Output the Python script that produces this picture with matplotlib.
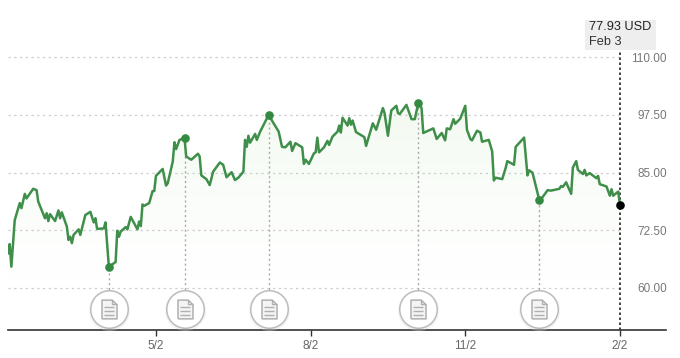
import numpy as np
import matplotlib
matplotlib.use("Agg")
import matplotlib.pyplot as plt
from matplotlib.path import Path
from matplotlib.colors import LinearSegmentedColormap

plt.rcParams['font.family'] = ['Liberation Sans', 'DejaVu Sans']

# days since Feb 2 of the previous year, price in USD
days = [1, 2, 3, 5, 8, 9, 11, 12, 16, 18, 19, 23, 24, 25, 26, 29, 31, 32, 33, 36, 37, 38, 39, 40,
        43, 44, 47, 50, 52, 53, 54, 58, 59, 61, 65, 66, 67, 68, 71, 72, 74, 78, 79, 80, 81, 82, 85,
        87, 88, 89, 93, 95, 96, 99, 100, 101, 103, 106, 107, 110, 114, 115, 116, 119, 121, 123,
        127, 129, 131, 134, 136, 138, 141, 142, 143, 144, 145, 148, 149, 151, 156, 162, 164, 166,
        169, 170, 172, 176, 177, 178, 180, 183, 184, 185, 186, 189, 191, 192, 194, 197, 198, 199,
        200, 203, 204, 205, 206, 208, 213, 214, 218, 220, 224, 225, 227, 229, 232, 233, 234, 238,
        241, 243, 245, 247, 248, 254, 256, 259, 261, 262, 264, 266, 267, 270, 273, 274, 276, 277,
        280, 282, 283, 287, 289, 290, 291, 295, 297, 298, 302, 303, 308, 310, 311, 313, 317, 319,
        322, 324, 329, 330, 331, 333, 336, 337, 339, 340, 343, 344, 345, 347, 351, 352, 353, 357,
        359, 360, 361, 364, 365]
prices = [67.5, 69.5, 64.6, 74.7, 78.4, 77.3, 80.4, 79.4, 81.5, 81.2, 78.7, 75.1, 76.2, 74.5, 76.0,
          74.5, 76.8, 75.1, 76.4, 73.3, 70.4, 71.1, 69.7, 71.5, 72.7, 71.5, 75.8, 76.5, 74.2, 75.1,
          72.8, 72.9, 74.2, 64.6, 65.6, 72.4, 71.1, 72.2, 73.2, 72.7, 75.4, 72.7, 74.4, 73.4, 78.1,
          77.8, 78.4, 81.0, 81.0, 84.3, 85.8, 82.2, 82.7, 87.4, 91.6, 90.1, 92.1, 92.5, 88.5, 87.8,
          89.1, 88.5, 84.4, 83.6, 82.3, 85.2, 87.2, 86.7, 84.0, 85.1, 83.4, 83.9, 85.2, 92.1, 90.6,
          93.0, 91.5, 93.4, 92.1, 93.9, 97.5, 93.9, 90.6, 90.5, 91.7, 89.7, 91.4, 90.5, 86.9, 87.8,
          86.9, 89.2, 89.4, 92.6, 89.4, 90.5, 91.9, 91.0, 92.8, 93.9, 95.2, 93.7, 96.9, 95.2, 96.8,
          95.4, 96.3, 93.8, 92.7, 90.8, 95.7, 94.3, 99.0, 97.9, 93.0, 98.5, 99.5, 97.9, 97.7, 99.7,
          96.6, 96.6, 100.1, 99.0, 93.6, 94.6, 92.3, 93.6, 92.0, 94.6, 94.4, 96.6, 95.6, 96.7, 99.5,
          94.3, 92.3, 92.0, 94.1, 93.7, 91.7, 92.1, 89.6, 83.3, 83.9, 83.6, 86.0, 87.5, 86.7, 90.6,
          92.6, 84.4, 85.5, 85.0, 79.1, 79.7, 81.2, 81.1, 81.5, 82.1, 81.9, 82.9, 80.4, 86.1, 87.5,
          85.6, 84.7, 85.6, 84.4, 84.9, 83.8, 84.3, 82.5, 82.0, 80.0, 81.4, 80.0, 80.9, 77.93]

event_days = [61, 106, 156, 245, 317]
y_ticks = [60, 72.5, 85, 97.5, 110]
x_tick_days = [89, 181, 273, 365]
x_tick_labels = ['5/2', '8/2', '11/2', '2/2']

GREEN = '#3f8f4a'
last_day = days[-1]
icon_y = 55.5

fig = plt.figure(figsize=(6.8, 3.58), dpi=100)
ax = fig.add_axes([8 / 680, 1 - 330 / 358, 658 / 680, 280 / 358])
ax.set_xlim(1, 392.4)
ax.set_ylim(50.87, 111.6)
for s in ['top', 'left', 'right']:
    ax.spines[s].set_visible(False)
ax.spines['bottom'].set_color('#333333')
ax.spines['bottom'].set_linewidth(1.2)
ax.patch.set_alpha(0)

# gradient under the line
cmap = LinearSegmentedColormap.from_list('fade', ['#ffffff', '#f3faf1'])
grad = np.linspace(1, 0, 256).reshape(-1, 1) ** 1.2
poly = ax.fill_between(days, prices, 50.87, color='none')
img = ax.imshow(grad, cmap=cmap, aspect='auto', extent=[1, 365, 62, 100], zorder=0)
img.set_clip_path(poly.get_paths()[0], transform=ax.transData)

# gridlines stop at the last date
ax.hlines(y_ticks, 1, last_day, color='#cdcdcd', lw=0.9, linestyles=(0, (1.8, 2.8)), zorder=1)

ax.plot(days, prices, color=GREEN, lw=1.8, solid_joinstyle='round', zorder=3)

event_prices = [prices[days.index(d)] for d in event_days]
ax.vlines(event_days, icon_y, event_prices, color='#aaaaaa', lw=1, linestyles=(0, (1.5, 2)), zorder=2)
ax.plot(event_days, event_prices, 'o', color='#338a40', ms=6.2, mew=0, zorder=4)

# last price
ax.vlines(last_day, 50.87, 111.6, color='#222222', lw=1.2, linestyles=(0, (1.5, 1.5)), zorder=2)
ax.plot([last_day], [prices[-1]], 'o', color='black', ms=6.2, mew=0, zorder=5)

# document buttons
page = Path([(-4, -5), (-4, 5), (1.5, 5), (4, 2.5), (4, -5), (-4, -5)])
rules = Path([(-2.5, 1), (2.5, 1), (-2.5, -1), (2.5, -1), (-2.5, -3), (2.5, -3), (-1, 5), (1.5, 5), (1.5, 2.5), (4, 2.5)],
             [Path.MOVETO, Path.LINETO, Path.MOVETO, Path.LINETO, Path.MOVETO, Path.LINETO,
              Path.MOVETO, Path.MOVETO, Path.LINETO, Path.LINETO])
for d in event_days:
    ax.plot([d], [icon_y - 0.4], 'o', ms=29.5, mfc='#dddddd', mec='none', alpha=0.35, zorder=5, clip_on=False)
    ax.plot([d], [icon_y], 'o', ms=27, mfc='white', mec='#bdbdbd', mew=1.1, zorder=6)
    ax.plot([d], [icon_y], marker=page, ms=13.5, mfc='#f4f4f4', mec='#b0b0b0', mew=1.1, zorder=7)
    ax.plot([d], [icon_y], marker=rules, ms=13.5, mfc='none', mec='#b0b0b0', mew=1, zorder=8)

ax.set_xticks(x_tick_days, x_tick_labels)
ax.tick_params(axis='x', length=4, width=1, color='#333333', labelsize=8.5, labelcolor='#666666', pad=3)
ax.set_yticks([])
for v in y_ticks:
    ax.text(392.8, v - 0.3, f'{v:.2f}', ha='right', va='center', fontsize=8.5, color='#777777')

# price label
fig.patches.append(plt.Rectangle((585 / 680, 1 - 50 / 358), 71 / 680, 30 / 358, transform=fig.transFigure,
                                 facecolor='#eeeeee', edgecolor='none', figure=fig))
fig.text(589 / 680, 1 - 27 / 358, '77.93 USD', fontsize=9.2, color='#222222', va='center')
fig.text(589 / 680, 1 - 42 / 358, 'Feb 3', fontsize=9.2, color='#333333', va='center')

fig.savefig('out.png', dpi=100)
